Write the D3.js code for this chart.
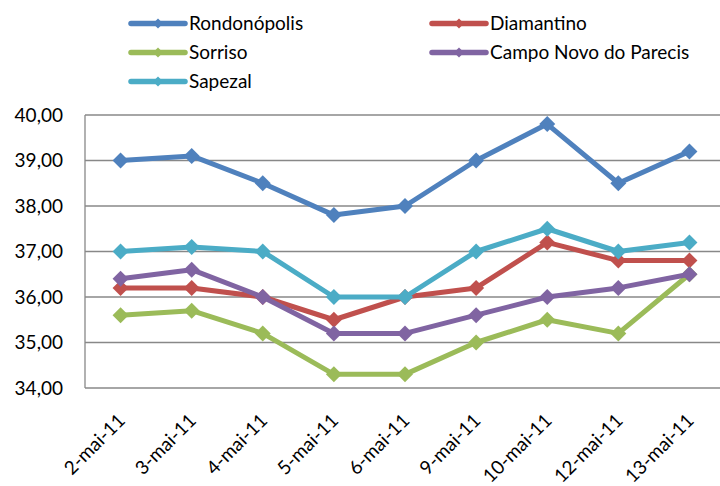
<!DOCTYPE html>
<html><head><meta charset="utf-8">
<script src="https://cdn.jsdelivr.net/npm/d3@7"></script>
<style>body{margin:0;background:#fff}svg{display:block}</style>
</head><body>
<script>
const categories = ["2-mai-11","3-mai-11","4-mai-11","5-mai-11","6-mai-11","9-mai-11","10-mai-11","12-mai-11","13-mai-11"];
const seriesNames = ["Rondonópolis","Diamantino","Sorriso","Campo Novo do Parecis","Sapezal"];
const rondonopolis = [39.0,39.1,38.5,37.8,38.0,39.0,39.8,38.5,39.2];
const diamantino = [36.2,36.2,36.0,35.5,36.0,36.2,37.2,36.8,36.8];
const sorriso = [35.6,35.7,35.2,34.3,34.3,35.0,35.5,35.2,36.5];
const campoNovo = [36.4,36.6,36.0,35.2,35.2,35.6,36.0,36.2,36.5];
const sapezal = [37.0,37.1,37.0,36.0,36.0,37.0,37.5,37.0,37.2];
const yTicks = [34,35,36,37,38,39,40];
const colors = ["#4F81BD","#C0504D","#9BBB59","#8064A2","#4BACC6"];
const values = [rondonopolis, diamantino, sorriso, campoNovo, sapezal];

(function(){
const W = 720, H = 486;
const font = "Lato, 'Open Sans', sans-serif";
const fs = 19;
const svg = d3.select("body").append("svg").attr("width", W).attr("height", H);

const pl = 85, pr = 725, pt = 115, pb = 388;
const x = d3.scaleBand().domain(categories).range([pl, pr]);
const y = d3.scaleLinear().domain([34, 40]).range([pb, pt]);

svg.append("g").selectAll("line").data(yTicks).join("line")
  .attr("x1", pl).attr("x2", pr)
  .attr("y1", d => y(d)).attr("y2", d => y(d))
  .attr("stroke", "#888").attr("stroke-width", 1.3);
svg.append("line").attr("x1", pl).attr("x2", pl).attr("y1", pt).attr("y2", pb)
  .attr("stroke", "#888").attr("stroke-width", 1.3);

const yAxis = d3.axisLeft(y).tickValues(yTicks).tickSize(0).tickPadding(22)
  .tickFormat(d => d3.format(".2f")(d).replace(".", ","));
const ya = svg.append("g").attr("transform", `translate(${pl},0)`).call(yAxis);
ya.select(".domain").remove();
ya.selectAll("text").attr("font-family", font).attr("font-size", fs).attr("fill", "#000");

const xAxis = d3.axisBottom(x).tickSize(0).tickPadding(0);
const xa = svg.append("g").attr("transform", `translate(0,${pb})`).call(xAxis);
xa.select(".domain").remove();
xa.selectAll("text")
  .attr("font-family", font).attr("font-size", fs).attr("fill", "#000")
  .attr("text-anchor", "end").attr("y", 0).attr("dy", "0.35em")
  .attr("transform", "translate(1,29) rotate(-45)");

const line = d3.line().x((d, i) => x(categories[i]) + x.bandwidth() / 2).y(d => y(d));
const diamond = r => `M0,${-r}L${r},0L0,${r}L${-r},0Z`;

values.forEach((vals, k) => {
  const g = svg.append("g");
  g.append("path").datum(vals).attr("d", line).attr("fill", "none")
    .attr("stroke", colors[k]).attr("stroke-width", 5).attr("stroke-linejoin", "round");
  g.selectAll("path.m").data(vals).join("path").attr("class", "m")
    .attr("d", diamond(8))
    .attr("transform", (d, i) => `translate(${x(categories[i]) + x.bandwidth() / 2},${y(d)})`)
    .attr("fill", colors[k]);
});

const legPos = [[131,23.5],[432,23.5],[131,52.5],[432,52.5],[131,81.5]];
seriesNames.forEach((name, k) => {
  const [lx, ly] = legPos[k];
  const g = svg.append("g").attr("transform", `translate(${lx},${ly})`);
  g.append("line").attr("x1", 0).attr("x2", 54).attr("y1", 0).attr("y2", 0)
    .attr("stroke", colors[k]).attr("stroke-width", 5.5).attr("stroke-linecap", "round");
  g.append("path").attr("d", diamond(5)).attr("transform", "translate(27,0)").attr("fill", colors[k]);
  g.append("text").attr("x", 58).attr("y", 0).attr("dy", "0.35em")
    .attr("font-family", font).attr("font-size", fs).attr("fill", "#000").text(name);
});
})();
</script>
</body></html>
